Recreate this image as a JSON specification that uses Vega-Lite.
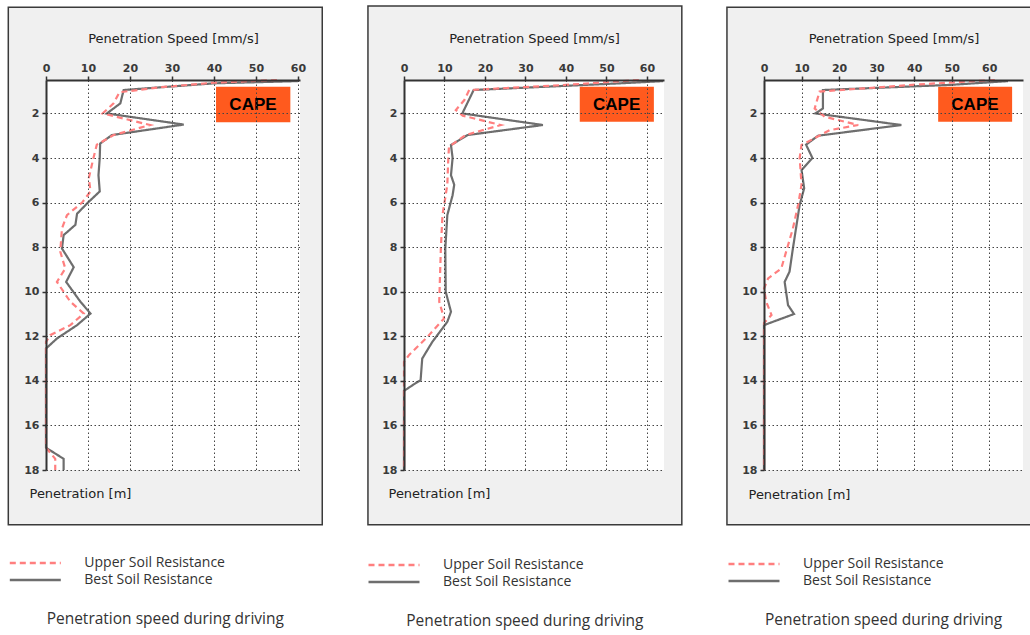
{
  "$schema": "https://vega.github.io/schema/vega-lite/v6.json",
  "background": "white",
  "padding": {"left": 7, "top": 5, "right": 0, "bottom": 0},
  "spacing": 43,
  "datasets": {
    "p1": [
      {"series": "Best Soil Resistance", "depth": 0.55, "speed": 60},
      {"series": "Best Soil Resistance", "depth": 0.65, "speed": 40},
      {"series": "Best Soil Resistance", "depth": 0.95, "speed": 18.5},
      {"series": "Best Soil Resistance", "depth": 1.55, "speed": 17.7},
      {"series": "Best Soil Resistance", "depth": 2.0, "speed": 14.5},
      {"series": "Best Soil Resistance", "depth": 2.5, "speed": 32.8},
      {"series": "Best Soil Resistance", "depth": 2.97, "speed": 15.7},
      {"series": "Best Soil Resistance", "depth": 3.35, "speed": 12.9},
      {"series": "Best Soil Resistance", "depth": 4.0, "speed": 12.8},
      {"series": "Best Soil Resistance", "depth": 4.77, "speed": 12.5},
      {"series": "Best Soil Resistance", "depth": 5.5, "speed": 12.8},
      {"series": "Best Soil Resistance", "depth": 6.0, "speed": 10.0},
      {"series": "Best Soil Resistance", "depth": 6.5, "speed": 7.4},
      {"series": "Best Soil Resistance", "depth": 7.0, "speed": 7.0},
      {"series": "Best Soil Resistance", "depth": 7.46, "speed": 4.2},
      {"series": "Best Soil Resistance", "depth": 8.06, "speed": 3.8},
      {"series": "Best Soil Resistance", "depth": 8.9, "speed": 6.6},
      {"series": "Best Soil Resistance", "depth": 9.56, "speed": 4.8},
      {"series": "Best Soil Resistance", "depth": 10.45, "speed": 8.2},
      {"series": "Best Soil Resistance", "depth": 10.98, "speed": 10.6},
      {"series": "Best Soil Resistance", "depth": 11.5, "speed": 7.4},
      {"series": "Best Soil Resistance", "depth": 12.1, "speed": 2.6},
      {"series": "Best Soil Resistance", "depth": 12.55, "speed": 0},
      {"series": "Best Soil Resistance", "depth": 17.0, "speed": 0},
      {"series": "Best Soil Resistance", "depth": 17.5, "speed": 4.2},
      {"series": "Best Soil Resistance", "depth": 18.0, "speed": 4.2},
      {"series": "Upper Soil Resistance", "depth": 0.5, "speed": 55},
      {"series": "Upper Soil Resistance", "depth": 0.62, "speed": 40},
      {"series": "Upper Soil Resistance", "depth": 0.83, "speed": 27},
      {"series": "Upper Soil Resistance", "depth": 1.05, "speed": 17.5},
      {"series": "Upper Soil Resistance", "depth": 1.55, "speed": 16.1},
      {"series": "Upper Soil Resistance", "depth": 2.0, "speed": 13.5},
      {"series": "Upper Soil Resistance", "depth": 2.52, "speed": 24.8},
      {"series": "Upper Soil Resistance", "depth": 2.97, "speed": 16.1},
      {"series": "Upper Soil Resistance", "depth": 3.4, "speed": 12.1},
      {"series": "Upper Soil Resistance", "depth": 4.0, "speed": 11.3},
      {"series": "Upper Soil Resistance", "depth": 4.9, "speed": 10.2},
      {"series": "Upper Soil Resistance", "depth": 5.5, "speed": 10.6},
      {"series": "Upper Soil Resistance", "depth": 6.0, "speed": 8.6},
      {"series": "Upper Soil Resistance", "depth": 6.56, "speed": 5.0},
      {"series": "Upper Soil Resistance", "depth": 7.16, "speed": 3.8},
      {"series": "Upper Soil Resistance", "depth": 8.2, "speed": 3.4},
      {"series": "Upper Soil Resistance", "depth": 8.96, "speed": 4.6},
      {"series": "Upper Soil Resistance", "depth": 9.56, "speed": 2.6},
      {"series": "Upper Soil Resistance", "depth": 10.45, "speed": 5.8},
      {"series": "Upper Soil Resistance", "depth": 10.98, "speed": 9.0},
      {"series": "Upper Soil Resistance", "depth": 11.5, "speed": 5.8},
      {"series": "Upper Soil Resistance", "depth": 11.95, "speed": 1.0},
      {"series": "Upper Soil Resistance", "depth": 12.25, "speed": 0},
      {"series": "Upper Soil Resistance", "depth": 17.0, "speed": 0},
      {"series": "Upper Soil Resistance", "depth": 17.5, "speed": 2.2},
      {"series": "Upper Soil Resistance", "depth": 18.0, "speed": 2.2}
    ],
    "p2": [
      {"series": "Best Soil Resistance", "depth": 0.55, "speed": 64},
      {"series": "Best Soil Resistance", "depth": 0.65, "speed": 53.2},
      {"series": "Best Soil Resistance", "depth": 0.95, "speed": 17.2},
      {"series": "Best Soil Resistance", "depth": 2.0, "speed": 14.4},
      {"series": "Best Soil Resistance", "depth": 2.52, "speed": 34.3},
      {"series": "Best Soil Resistance", "depth": 2.97, "speed": 15.7},
      {"series": "Best Soil Resistance", "depth": 3.42, "speed": 11.6},
      {"series": "Best Soil Resistance", "depth": 4.0, "speed": 12.0},
      {"series": "Best Soil Resistance", "depth": 4.77, "speed": 11.6},
      {"series": "Best Soil Resistance", "depth": 5.2, "speed": 12.4},
      {"series": "Best Soil Resistance", "depth": 5.67, "speed": 12.0},
      {"series": "Best Soil Resistance", "depth": 6.56, "speed": 10.7},
      {"series": "Best Soil Resistance", "depth": 8.06, "speed": 10.2},
      {"series": "Best Soil Resistance", "depth": 10.0, "speed": 10.3},
      {"series": "Best Soil Resistance", "depth": 10.9, "speed": 11.6},
      {"series": "Best Soil Resistance", "depth": 11.35, "speed": 10.7},
      {"series": "Best Soil Resistance", "depth": 12.25, "speed": 7.0},
      {"series": "Best Soil Resistance", "depth": 13.0, "speed": 4.5},
      {"series": "Best Soil Resistance", "depth": 13.97, "speed": 4.1},
      {"series": "Best Soil Resistance", "depth": 14.1, "speed": 2.9},
      {"series": "Best Soil Resistance", "depth": 14.45, "speed": 0},
      {"series": "Best Soil Resistance", "depth": 18.0, "speed": 0},
      {"series": "Upper Soil Resistance", "depth": 0.5, "speed": 58},
      {"series": "Upper Soil Resistance", "depth": 0.72, "speed": 40},
      {"series": "Upper Soil Resistance", "depth": 0.95, "speed": 16.1},
      {"series": "Upper Soil Resistance", "depth": 1.4, "speed": 14.9},
      {"series": "Upper Soil Resistance", "depth": 1.85, "speed": 12.8},
      {"series": "Upper Soil Resistance", "depth": 2.1, "speed": 14.5},
      {"series": "Upper Soil Resistance", "depth": 2.52, "speed": 23.9},
      {"series": "Upper Soil Resistance", "depth": 2.97, "speed": 15.2},
      {"series": "Upper Soil Resistance", "depth": 3.5, "speed": 11.1},
      {"series": "Upper Soil Resistance", "depth": 4.17, "speed": 10.9},
      {"series": "Upper Soil Resistance", "depth": 5.2, "speed": 10.7},
      {"series": "Upper Soil Resistance", "depth": 6.56, "speed": 9.5},
      {"series": "Upper Soil Resistance", "depth": 8.06, "speed": 9.1},
      {"series": "Upper Soil Resistance", "depth": 10.45, "speed": 8.7},
      {"series": "Upper Soil Resistance", "depth": 11.2, "speed": 9.9},
      {"series": "Upper Soil Resistance", "depth": 12.1, "speed": 5.4},
      {"series": "Upper Soil Resistance", "depth": 12.85, "speed": 1.2},
      {"series": "Upper Soil Resistance", "depth": 13.15, "speed": 0},
      {"series": "Upper Soil Resistance", "depth": 18.0, "speed": 0}
    ],
    "p3": [
      {"series": "Best Soil Resistance", "depth": 0.55, "speed": 65},
      {"series": "Best Soil Resistance", "depth": 0.72, "speed": 49.5},
      {"series": "Best Soil Resistance", "depth": 0.95, "speed": 15.7},
      {"series": "Best Soil Resistance", "depth": 1.78, "speed": 15.7},
      {"series": "Best Soil Resistance", "depth": 2.0, "speed": 13.7},
      {"series": "Best Soil Resistance", "depth": 2.52, "speed": 36.6},
      {"series": "Best Soil Resistance", "depth": 3.0, "speed": 14.4},
      {"series": "Best Soil Resistance", "depth": 3.4, "speed": 11.2},
      {"series": "Best Soil Resistance", "depth": 4.0, "speed": 12.9},
      {"series": "Best Soil Resistance", "depth": 4.54, "speed": 10.0},
      {"series": "Best Soil Resistance", "depth": 5.36, "speed": 10.7},
      {"series": "Best Soil Resistance", "depth": 6.1, "speed": 9.5},
      {"series": "Best Soil Resistance", "depth": 8.06, "speed": 7.7},
      {"series": "Best Soil Resistance", "depth": 9.1, "speed": 6.8},
      {"series": "Best Soil Resistance", "depth": 9.56, "speed": 5.5},
      {"series": "Best Soil Resistance", "depth": 10.6, "speed": 6.4},
      {"series": "Best Soil Resistance", "depth": 11.0, "speed": 8.0},
      {"series": "Best Soil Resistance", "depth": 11.5, "speed": 0},
      {"series": "Best Soil Resistance", "depth": 18.0, "speed": 0},
      {"series": "Upper Soil Resistance", "depth": 0.5, "speed": 61.5},
      {"series": "Upper Soil Resistance", "depth": 0.7, "speed": 41},
      {"series": "Upper Soil Resistance", "depth": 1.02, "speed": 14.8},
      {"series": "Upper Soil Resistance", "depth": 1.78, "speed": 13.5},
      {"series": "Upper Soil Resistance", "depth": 2.15, "speed": 16.2},
      {"series": "Upper Soil Resistance", "depth": 2.52, "speed": 25.1},
      {"series": "Upper Soil Resistance", "depth": 2.75, "speed": 17.5},
      {"series": "Upper Soil Resistance", "depth": 3.42, "speed": 10.0},
      {"series": "Upper Soil Resistance", "depth": 4.0, "speed": 9.5},
      {"series": "Upper Soil Resistance", "depth": 5.2, "speed": 10.0},
      {"series": "Upper Soil Resistance", "depth": 6.1, "speed": 9.1},
      {"series": "Upper Soil Resistance", "depth": 7.16, "speed": 7.7},
      {"series": "Upper Soil Resistance", "depth": 8.96, "speed": 4.6},
      {"series": "Upper Soil Resistance", "depth": 9.4, "speed": 1.1},
      {"series": "Upper Soil Resistance", "depth": 9.86, "speed": 0},
      {"series": "Upper Soil Resistance", "depth": 10.45, "speed": 0.6},
      {"series": "Upper Soil Resistance", "depth": 11.05, "speed": 2.0},
      {"series": "Upper Soil Resistance", "depth": 11.4, "speed": 0},
      {"series": "Upper Soil Resistance", "depth": 18.0, "speed": 0}
    ]
  },
  "hconcat": [
    {
      "width": 254,
      "height": 390,
      "data": {"values": [{}]},
      "title": {"text": "Penetration speed during driving"},
      "layer": [
        {
          "mark": {"type": "rect", "fill": "#f0f0f0", "stroke": "#3a3a3a", "strokeWidth": 1.5},
          "encoding": {
            "x": {"datum": -8.98, "type": "quantitative", "scale": {"domain": [0, 60.5], "nice": false, "zero": false}},
            "x2": {"datum": 65.8},
            "y": {"datum": -2.77, "type": "quantitative", "scale": {"domain": [0.5, 18], "reverse": true, "nice": false, "zero": false}},
            "y2": {"datum": 20.46}
          }
        },
        {
          "mark": {"type": "rect", "fill": "white"},
          "encoding": {
            "x": {"datum": 0, "type": "quantitative", "scale": {"domain": [0, 60.5], "nice": false, "zero": false}},
            "x2": {"datum": 60.5},
            "y": {"datum": 0.5, "type": "quantitative", "scale": {"domain": [0.5, 18], "reverse": true, "nice": false, "zero": false}},
            "y2": {"datum": 18}
          }
        },
        {
          "mark": {"type": "rect", "fill": "#ff5a1e"},
          "encoding": {
            "x": {"datum": 40.5, "type": "quantitative", "scale": {"domain": [0, 60.5], "nice": false, "zero": false}},
            "x2": {"datum": 58.2},
            "y": {"datum": 0.8, "type": "quantitative", "scale": {"domain": [0.5, 18], "reverse": true, "nice": false, "zero": false}},
            "y2": {"datum": 2.4}
          }
        },
        {
          "mark": {"type": "text", "text": "CAPE", "font": "Liberation Sans", "fontSize": 17, "fontWeight": "bold", "color": "black", "align": "center", "baseline": "middle"},
          "encoding": {
            "x": {"datum": 49.3, "type": "quantitative", "scale": {"domain": [0, 60.5], "nice": false, "zero": false}},
            "y": {"datum": 1.6, "type": "quantitative", "scale": {"domain": [0.5, 18], "reverse": true, "nice": false, "zero": false}}
          }
        },
        {
          "data": {"name": "p1"},
          "mark": {"type": "line", "strokeWidth": 2.2},
          "encoding": {
            "x": {"field": "speed", "type": "quantitative", "scale": {"domain": [0, 60.5], "nice": false, "zero": false},
              "axis": {"orient": "top", "zindex": 2, "labelOverlap": false, "title": "Penetration Speed [mm/s]", "values": [0,5,10,15,20,25,30,35,40,45,50,55,60], "labelExpr": "datum.value % 10 === 0 ? datum.label : ''", "gridOpacity": {"condition": {"test": "datum.value % 10 === 0", "value": 1}, "value": 0}}},
            "y": {"field": "depth", "type": "quantitative", "scale": {"domain": [0.5, 18], "reverse": true, "nice": false, "zero": false},
              "axis": {"orient": "left", "zindex": 2, "labelOverlap": false, "title": "Penetration [m]", "values": [2,4,6,8,10,12,14,16,18], "titleAngle": 0, "titleX": -17, "titleY": 413, "titleAlign": "left", "titleBaseline": "middle"}},
            "order": {"field": "depth", "type": "quantitative"},
            "color": {"field": "series", "type": "nominal", "scale": {"domain": ["Upper Soil Resistance", "Best Soil Resistance"], "range": ["#ff7f7f", "#6e6e6e"]}, "legend": {"orient": "none", "legendX": -20.7, "legendY": 473, "title": null}},
            "strokeDash": {"field": "series", "type": "nominal", "scale": {"domain": ["Upper Soil Resistance", "Best Soil Resistance"], "range": [[6, 4], [1, 0]]}, "legend": {"orient": "none", "legendX": -20.7, "legendY": 473, "title": null}}
          }
        }
      ]
    },
    {
      "width": 260,
      "height": 390,
      "data": {"values": [{}]},
      "title": {"text": "Penetration speed during driving"},
      "layer": [
        {
          "mark": {"type": "rect", "fill": "#f0f0f0", "stroke": "#3a3a3a", "strokeWidth": 1.5},
          "encoding": {
            "x": {"datum": -8.9, "type": "quantitative", "scale": {"domain": [0, 64.2], "nice": false, "zero": false}},
            "x2": {"datum": 68.6},
            "y": {"datum": -2.82, "type": "quantitative", "scale": {"domain": [0.5, 18], "reverse": true, "nice": false, "zero": false}},
            "y2": {"datum": 20.46}
          }
        },
        {
          "mark": {"type": "rect", "fill": "white"},
          "encoding": {
            "x": {"datum": 0, "type": "quantitative", "scale": {"domain": [0, 64.2], "nice": false, "zero": false}},
            "x2": {"datum": 64.2},
            "y": {"datum": 0.5, "type": "quantitative", "scale": {"domain": [0.5, 18], "reverse": true, "nice": false, "zero": false}},
            "y2": {"datum": 18}
          }
        },
        {
          "mark": {"type": "rect", "fill": "#ff5a1e"},
          "encoding": {
            "x": {"datum": 43.4, "type": "quantitative", "scale": {"domain": [0, 64.2], "nice": false, "zero": false}},
            "x2": {"datum": 61.7},
            "y": {"datum": 0.8, "type": "quantitative", "scale": {"domain": [0.5, 18], "reverse": true, "nice": false, "zero": false}},
            "y2": {"datum": 2.37}
          }
        },
        {
          "mark": {"type": "text", "text": "CAPE", "font": "Liberation Sans", "fontSize": 17, "fontWeight": "bold", "color": "black", "align": "center", "baseline": "middle"},
          "encoding": {
            "x": {"datum": 52.5, "type": "quantitative", "scale": {"domain": [0, 64.2], "nice": false, "zero": false}},
            "y": {"datum": 1.6, "type": "quantitative", "scale": {"domain": [0.5, 18], "reverse": true, "nice": false, "zero": false}}
          }
        },
        {
          "data": {"name": "p2"},
          "mark": {"type": "line", "strokeWidth": 2.2},
          "encoding": {
            "x": {"field": "speed", "type": "quantitative", "scale": {"domain": [0, 64.2], "nice": false, "zero": false},
              "axis": {"orient": "top", "zindex": 2, "labelOverlap": false, "title": "Penetration Speed [mm/s]", "values": [0,5,10,15,20,25,30,35,40,45,50,55,60], "labelExpr": "datum.value % 10 === 0 ? datum.label : ''", "gridOpacity": {"condition": {"test": "datum.value % 10 === 0", "value": 1}, "value": 0}}},
            "y": {"field": "depth", "type": "quantitative", "scale": {"domain": [0.5, 18], "reverse": true, "nice": false, "zero": false},
              "axis": {"orient": "left", "zindex": 2, "labelOverlap": false, "title": "Penetration [m]", "values": [2,4,6,8,10,12,14,16,18], "titleAngle": 0, "titleX": -16, "titleY": 413, "titleAlign": "left", "titleBaseline": "middle"}},
            "order": {"field": "depth", "type": "quantitative"},
            "color": {"field": "series", "type": "nominal", "scale": {"domain": ["Upper Soil Resistance", "Best Soil Resistance"], "range": ["#ff7f7f", "#6e6e6e"]}, "legend": {"orient": "none", "legendX": -20, "legendY": 475, "title": null}},
            "strokeDash": {"field": "series", "type": "nominal", "scale": {"domain": ["Upper Soil Resistance", "Best Soil Resistance"], "range": [[6, 4], [1, 0]]}, "legend": {"orient": "none", "legendX": -20, "legendY": 475, "title": null}}
          }
        }
      ]
    },
    {
      "width": 259,
      "height": 390,
      "data": {"values": [{}]},
      "title": {"text": "Penetration speed during driving"},
      "layer": [
        {
          "mark": {"type": "rect", "fill": "#f0f0f0", "stroke": "#3a3a3a", "strokeWidth": 1.5},
          "encoding": {
            "x": {"datum": -9.87, "type": "quantitative", "scale": {"domain": [0, 69], "nice": false, "zero": false}},
            "x2": {"datum": 73.6},
            "y": {"datum": -2.77, "type": "quantitative", "scale": {"domain": [0.5, 18], "reverse": true, "nice": false, "zero": false}},
            "y2": {"datum": 20.46}
          }
        },
        {
          "mark": {"type": "rect", "fill": "white"},
          "encoding": {
            "x": {"datum": 0, "type": "quantitative", "scale": {"domain": [0, 69], "nice": false, "zero": false}},
            "x2": {"datum": 69},
            "y": {"datum": 0.5, "type": "quantitative", "scale": {"domain": [0.5, 18], "reverse": true, "nice": false, "zero": false}},
            "y2": {"datum": 18}
          }
        },
        {
          "mark": {"type": "rect", "fill": "#ff5a1e"},
          "encoding": {
            "x": {"datum": 46.4, "type": "quantitative", "scale": {"domain": [0, 69], "nice": false, "zero": false}},
            "x2": {"datum": 66.1},
            "y": {"datum": 0.8, "type": "quantitative", "scale": {"domain": [0.5, 18], "reverse": true, "nice": false, "zero": false}},
            "y2": {"datum": 2.37}
          }
        },
        {
          "mark": {"type": "text", "text": "CAPE", "font": "Liberation Sans", "fontSize": 17, "fontWeight": "bold", "color": "black", "align": "center", "baseline": "middle"},
          "encoding": {
            "x": {"datum": 56.2, "type": "quantitative", "scale": {"domain": [0, 69], "nice": false, "zero": false}},
            "y": {"datum": 1.6, "type": "quantitative", "scale": {"domain": [0.5, 18], "reverse": true, "nice": false, "zero": false}}
          }
        },
        {
          "data": {"name": "p3"},
          "mark": {"type": "line", "strokeWidth": 2.2},
          "encoding": {
            "x": {"field": "speed", "type": "quantitative", "scale": {"domain": [0, 69], "nice": false, "zero": false},
              "axis": {"orient": "top", "zindex": 2, "labelOverlap": false, "title": "Penetration Speed [mm/s]", "values": [0,5,10,15,20,25,30,35,40,45,50,55,60,65], "labelExpr": "datum.value % 10 === 0 ? datum.label : ''", "gridOpacity": {"condition": {"test": "datum.value % 10 === 0", "value": 1}, "value": 0}}},
            "y": {"field": "depth", "type": "quantitative", "scale": {"domain": [0.5, 18], "reverse": true, "nice": false, "zero": false},
              "axis": {"orient": "left", "zindex": 2, "labelOverlap": false, "title": "Penetration [m]", "values": [2,4,6,8,10,12,14,16,18], "titleAngle": 0, "titleX": -16, "titleY": 414, "titleAlign": "left", "titleBaseline": "middle"}},
            "order": {"field": "depth", "type": "quantitative"},
            "color": {"field": "series", "type": "nominal", "scale": {"domain": ["Upper Soil Resistance", "Best Soil Resistance"], "range": ["#ff7f7f", "#6e6e6e"]}, "legend": {"orient": "none", "legendX": -20, "legendY": 474, "title": null}},
            "strokeDash": {"field": "series", "type": "nominal", "scale": {"domain": ["Upper Soil Resistance", "Best Soil Resistance"], "range": [[6, 4], [1, 0]]}, "legend": {"orient": "none", "legendX": -20, "legendY": 474, "title": null}}
          }
        }
      ]
    }
  ],
  "resolve": {
    "scale": {"x": "independent", "y": "independent", "color": "independent", "strokeDash": "independent"},
    "legend": {"color": "independent", "strokeDash": "independent"}
  },
  "config": {
    "view": {"stroke": null},
    "axis": {
      "domainColor": "#333333",
      "domainWidth": 2,
      "tickColor": "#333333",
      "tickWidth": 1.5,
      "tickSize": 4,
      "labelFont": "DejaVu Sans",
      "labelFontSize": 11,
      "labelFontWeight": "bold",
      "labelColor": "#3a3a3a",
      "labelPadding": 3,
      "labelFlush": false,
      "labelOverlap": false,
      "grid": true,
      "gridColor": "#444444",
      "gridDash": [1.5, 2.5],
      "gridWidth": 1,
      "titleFont": "DejaVu Sans",
      "titleFontSize": 13,
      "titleFontWeight": "normal",
      "titleColor": "#222222"
    },
    "axisX": {"titlePadding": 17},
    "legend": {
      "symbolType": "M-3,0H3",
      "symbolSize": 289,
      "symbolStrokeWidth": 2.5,
      "labelFont": "Open Sans",
      "labelFontSize": 14,
      "labelColor": "#333333",
      "labelOffset": 39,
      "rowPadding": 0,
      "padding": 0
    },
    "title": {
      "orient": "bottom",
      "anchor": "middle",
      "frame": "bounds",
      "font": "Open Sans",
      "fontSize": 15.5,
      "fontWeight": "normal",
      "color": "#333333",
      "offset": 25
    }
  }
}
